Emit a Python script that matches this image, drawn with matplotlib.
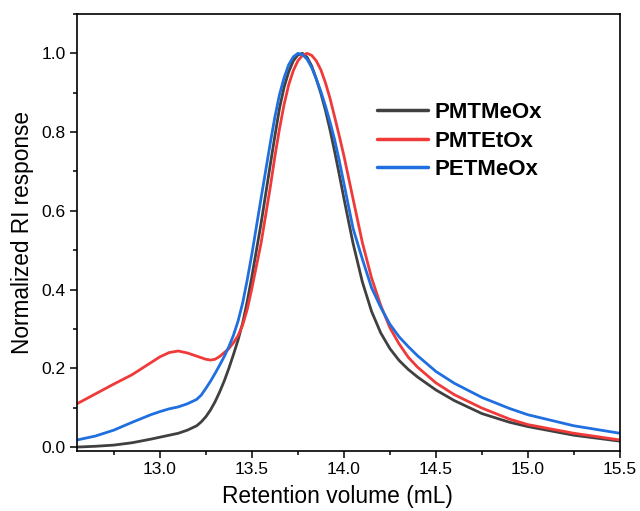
import matplotlib
matplotlib.use("Agg")
import matplotlib.pyplot as plt
from matplotlib.ticker import MultipleLocator

plt.rcParams['font.family'] = ['Liberation Sans', 'DejaVu Sans']

volume = [12.55, 12.65, 12.75, 12.85, 12.95, 13.0, 13.05, 13.1, 13.15, 13.2,
          13.225, 13.25, 13.275, 13.3, 13.325, 13.35, 13.375, 13.4, 13.425, 13.45,
          13.475, 13.5, 13.55, 13.6, 13.625, 13.65, 13.675, 13.7, 13.725, 13.75,
          13.775, 13.8, 13.825, 13.85, 13.875, 13.9, 13.925, 13.95, 13.975, 14.0,
          14.025, 14.05, 14.1, 14.15, 14.2, 14.25, 14.3, 14.35, 14.4, 14.5,
          14.6, 14.75, 14.9, 15.0, 15.25, 15.5]

pmtmeox = [0.0, 0.002, 0.005, 0.011, 0.020, 0.025, 0.030, 0.035, 0.043, 0.054,
           0.064, 0.077, 0.094, 0.115, 0.140, 0.168, 0.200, 0.235, 0.272, 0.315,
           0.370, 0.433, 0.568, 0.717, 0.790, 0.860, 0.914, 0.953, 0.981, 0.996,
           1.000, 0.990, 0.968, 0.935, 0.898, 0.855, 0.805, 0.750, 0.692, 0.632,
           0.574, 0.517, 0.420, 0.345, 0.290, 0.250, 0.220, 0.197, 0.178, 0.145,
           0.118, 0.085, 0.063, 0.052, 0.030, 0.015]

pmtetox = [0.110, 0.135, 0.160, 0.184, 0.214, 0.229, 0.240, 0.244, 0.239, 0.231,
           0.227, 0.223, 0.221, 0.223, 0.230, 0.240, 0.250, 0.265, 0.283, 0.310,
           0.350, 0.403, 0.518, 0.660, 0.738, 0.808, 0.870, 0.920, 0.956, 0.981,
           0.995, 1.000, 0.995, 0.981, 0.958, 0.925, 0.885, 0.838, 0.790, 0.740,
           0.685, 0.630, 0.520, 0.430, 0.360, 0.303, 0.262, 0.228, 0.203, 0.163,
           0.133, 0.099, 0.071, 0.057, 0.035, 0.018]

petmeox = [0.018, 0.028, 0.043, 0.063, 0.082, 0.090, 0.097, 0.102, 0.110, 0.121,
           0.132, 0.149, 0.167, 0.187, 0.208, 0.230, 0.255, 0.284, 0.320, 0.366,
           0.425, 0.490, 0.632, 0.772, 0.838, 0.895, 0.938, 0.971, 0.991, 1.000,
           0.997, 0.985, 0.964, 0.935, 0.903, 0.866, 0.825, 0.780, 0.727, 0.670,
           0.612, 0.555, 0.478, 0.405, 0.355, 0.312, 0.280, 0.255, 0.232, 0.192,
           0.162, 0.126, 0.098, 0.082, 0.054, 0.035]

series = [("PMTMeOx", pmtmeox, "#404040"),
          ("PMTEtOx", pmtetox, "#f03a3a"),
          ("PETMeOx", petmeox, "#1f6fe0")]

fig = plt.figure(figsize=(6.4, 5.11), dpi=100)
ax = fig.add_axes([77/640, 60/511, 543/640, 437/511])

for name, vals, col in series:
    ax.plot(volume, vals, color=col, lw=2.0, label=name,
            solid_capstyle='round', solid_joinstyle='round')

ax.set_xlim(12.55, 15.5)
ax.set_ylim(-0.01, 1.1)
ax.xaxis.set_major_locator(MultipleLocator(0.5))
ax.xaxis.set_minor_locator(MultipleLocator(0.25))
ax.yaxis.set_major_locator(MultipleLocator(0.2))
ax.yaxis.set_minor_locator(MultipleLocator(0.1))
ax.tick_params(which='major', direction='out', length=5, width=1.1, labelsize=12.5, pad=3)
ax.tick_params(which='minor', direction='out', length=3, width=1.1)
for sp in ax.spines.values():
    sp.set_linewidth(1.2)
ax.set_xlabel("Retention volume (mL)", fontsize=16.4)
ax.xaxis.set_label_coords(0.479, -0.077)
ax.set_ylabel("Normalized RI response", fontsize=16.3, labelpad=5.5)

leg = ax.legend(loc='upper left', bbox_to_anchor=(0.5525, 0.798), frameon=False,
                borderaxespad=0, borderpad=0, handlelength=2.3, handletextpad=0.3,
                labelspacing=0.33, prop={'weight': 'bold', 'size': 16})
for l in leg.get_lines():
    l.set_linewidth(2.5)

fig.savefig("out.png", dpi=100)
